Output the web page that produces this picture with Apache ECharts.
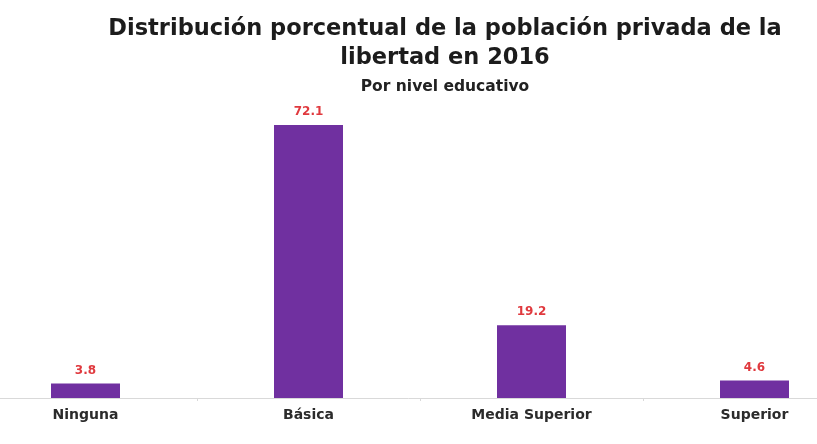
<!DOCTYPE html>
<html>
<head>
<meta charset="utf-8">
<script src="https://cdn.jsdelivr.net/npm/echarts@6/dist/echarts.min.js"></script>
<style>
html,body{margin:0;padding:0;background:#fff;}
#c{width:817px;height:444px;}
</style>
</head>
<body>
<div id="c"></div>
<script>
var categories = ['Ninguna', 'Básica', 'Media Superior', 'Superior'];
var values = [3.8, 72.1, 19.2, 4.6];
var titleText = 'Distribución porcentual de la población privada de la\nlibertad en 2016';
var subtitleText = 'Por nivel educativo';

var FONT = '"DejaVu Sans", sans-serif';
var chart = echarts.init(document.getElementById('c'));
chart.setOption({
  backgroundColor: '#ffffff',
  animation: false,
  title: {
    text: titleText,
    subtext: subtitleText,
    left: 440,
    top: 10,
    textAlign: 'center',
    itemGap: 6,
    textStyle: {
      fontFamily: FONT,
      fontWeight: 'bold',
      fontSize: 22.5,
      lineHeight: 29,
      color: '#1c1c1c'
    },
    subtextStyle: {
      fontFamily: FONT,
      fontWeight: 'bold',
      fontSize: 15.5,
      color: '#222222'
    }
  },
  grid: {
    left: -26,
    width: 892,
    top: 95,
    bottom: 46,
    containLabel: false,
    outerBoundsMode: 'none'
  },
  xAxis: {
    type: 'category',
    data: categories,
    axisLine: { show: true, lineStyle: { color: '#d9d9d9', width: 1 } },
    axisTick: { show: true, length: 3, lineStyle: { color: '#d9d9d9' } },
    axisLabel: {
      margin: 10,
      fontFamily: FONT,
      fontWeight: 'bold',
      fontSize: 14,
      color: '#2b2b2b'
    }
  },
  yAxis: {
    type: 'value',
    min: 0,
    max: 80,
    show: false,
    splitLine: { show: false }
  },
  series: [{
    type: 'bar',
    data: values,
    barWidth: 69,
    itemStyle: { color: '#7030A0' },
    label: {
      show: true,
      position: 'top',
      distance: 7,
      formatter: function (p) { return p.value.toFixed(1); },
      fontFamily: FONT,
      fontWeight: 'bold',
      fontSize: 12,
      color: '#e0393e'
    }
  }]
});
</script>
</body>
</html>
